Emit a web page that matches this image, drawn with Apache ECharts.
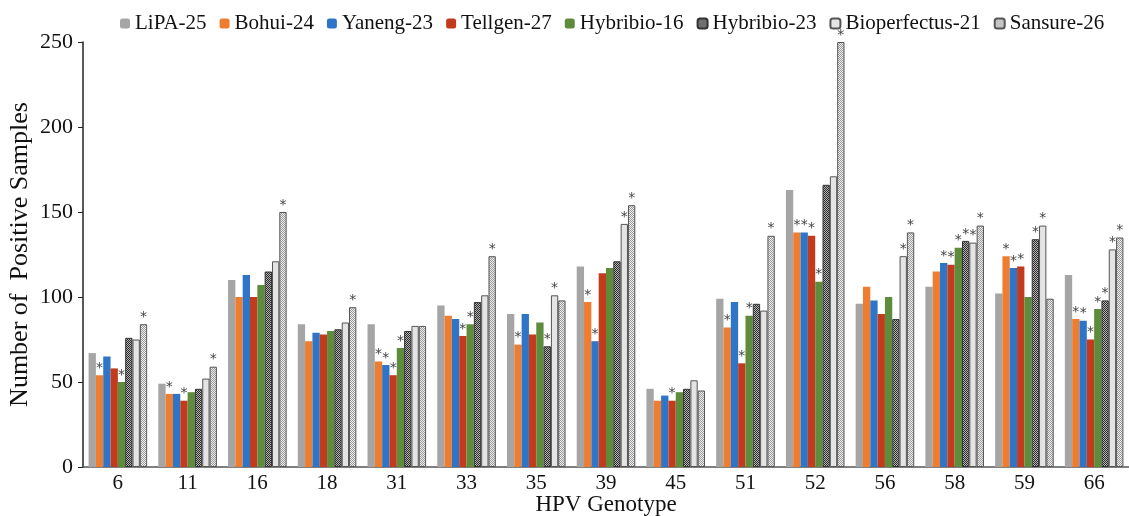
<!DOCTYPE html>
<html><head><meta charset="utf-8">
<script src="https://cdn.jsdelivr.net/npm/echarts@6/dist/echarts.min.js"></script>
<style>html,body{margin:0;padding:0;background:#fff}#c{width:1129px;height:516px}</style>
</head><body><div id="c"></div>
<script>
var categories = ['6','11','16','18','31','33','35','39','45','51','52','56','58','59','66'];
var seriesNames = ['LiPA-25','Bohui-24','Yaneng-23','Tellgen-27','Hybribio-16','Hybribio-23','Bioperfectus-21','Sansure-26'];
var lipa    = [67,49,110,84,84,95,90,118,46,99,163,96,106,102,113];
var bohui   = [54,43,100,74,62,89,72,97,39,82,138,106,115,124,87];
var yaneng  = [65,43,113,79,60,87,90,74,42,97,138,98,120,117,86];
var tellgen = [58,39,100,78,54,77,78,114,39,61,136,90,119,118,75];
var hyb16   = [50,44,107,80,70,84,85,117,44,89,109,100,129,100,93];
var hyb23   = [76,46,115,81,80,97,71,121,46,96,166,87,133,134,98];
var bioperf = [75,52,121,85,83,101,101,143,51,92,171,124,132,142,128];
var sansure = [84,59,150,94,83,124,98,154,45,136,250,138,142,99,135];
// indices of categories marked with an asterisk
var lipaStars    = [];
var bohuiStars   = [0,1,4,6,7,9,10,13,14];
var yanengStars  = [4,7,10,12,13,14];
var tellgenStars = [1,4,5,8,9,10,12,13,14];
var hyb16Stars   = [0,4,5,9,10,12,14];
var hyb23Stars   = [6,12,13,14];
var bioperfStars = [6,7,11,12,13,14];
var sansureStars = [0,1,2,3,5,7,9,10,11,12,14];
var yTicks = [0,50,100,150,200,250];

function pattern(a,b){
  var c=document.createElement('canvas');c.width=2;c.height=2;
  var g=c.getContext('2d');
  g.fillStyle=a;g.fillRect(0,0,2,2);
  g.fillStyle=b;g.fillRect(0,0,1,1);g.fillRect(1,1,1,1);
  return {image:c,repeat:'repeat'};
}
var FONT='Liberation Serif';
var allData=[lipa,bohui,yaneng,tellgen,hyb16,hyb23,bioperf,sansure];
var allStars=[lipaStars,bohuiStars,yanengStars,tellgenStars,hyb16Stars,hyb23Stars,bioperfStars,sansureStars];
var styles=[
  {color:'#a5a5a5'},
  {color:'#ed7d31'},
  {color:'#2e75c8'},
  {color:'#c23b1d'},
  {color:'#5e8c3d'},
  {color:pattern('#b5b5b5','#2c2c2c'),borderColor:'#333',borderWidth:1},
  {color:'#e4e4e4',borderColor:'#555',borderWidth:1},
  {color:pattern('#eeeeee','#9a9a9a'),borderColor:'#555',borderWidth:1}
];
var series=seriesNames.map(function(n,i){
  var st=allStars[i];
  return {
    name:n,type:'bar',data:allData[i],barGap:'0%',barCategoryGap:'16%',
    itemStyle:styles[i],
    label:{show:true,position:'top',distance:0,color:'#444',fontFamily:'DejaVu Sans',fontSize:14,
      formatter:function(p){return st.indexOf(p.dataIndex)>=0?'*':'';}}
  };
});
var chart=echarts.init(document.getElementById('c'));
chart.setOption({
  animation:false,
  textStyle:{fontFamily:FONT},
  legend:{top:8,left:115,itemWidth:10,itemHeight:10,itemGap:13,
    textStyle:{fontFamily:FONT,fontSize:21,color:'#111'},data:seriesNames},
  grid:{left:83,right:0,top:42,bottom:49,containLabel:false,outerBoundsMode:'none'},
  xAxis:{type:'category',data:categories,
    name:'HPV Genotype',nameLocation:'middle',nameGap:26,nameMoveOverlap:false,
    nameTextStyle:{fontFamily:FONT,fontSize:23,color:'#111',lineHeight:23},
    axisLine:{lineStyle:{color:'#555',width:1.5}},axisTick:{show:false},
    axisLabel:{fontFamily:FONT,fontSize:21,color:'#111',margin:6}},
  yAxis:{type:'value',min:0,max:250,interval:50,
    name:'Number of  Positive Samples',nameLocation:'middle',nameGap:50,nameMoveOverlap:false,
    nameTextStyle:{fontFamily:FONT,fontSize:26,color:'#111'},
    axisLine:{show:true,lineStyle:{color:'#222',width:1.5}},
    axisTick:{show:true,length:5,lineStyle:{color:'#222'}},
    splitLine:{show:false},
    axisLabel:{fontFamily:FONT,fontSize:22,color:'#111',margin:10,
      formatter:function(v){return yTicks.indexOf(v)>=0?String(v):'';}}},
  series:series
});
</script></body></html>
